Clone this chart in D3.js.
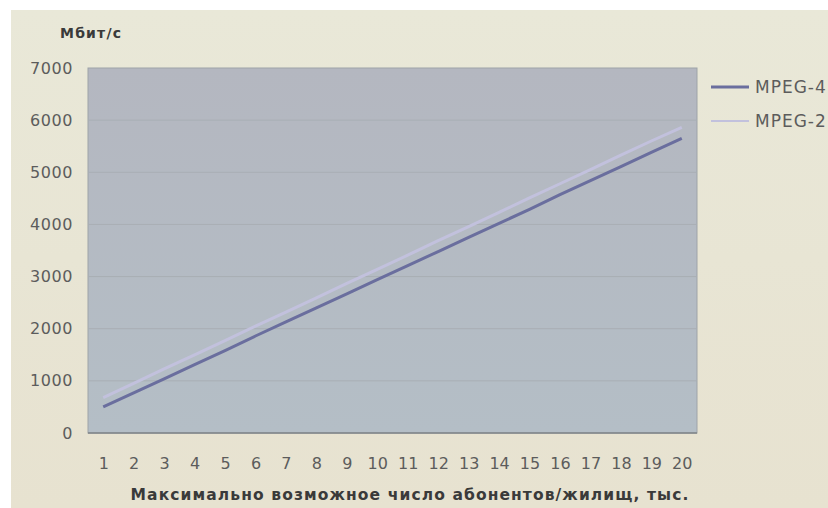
<!DOCTYPE html>
<html>
<head>
<meta charset="utf-8">
<script src="https://cdn.jsdelivr.net/npm/d3@7"></script>
<style>
  html, body { margin: 0; padding: 0; background: #ffffff; }
  svg { display: block; }
</style>
</head>
<body>
<svg id="chart" width="828" height="508"></svg>
<script>
// Bandwidth demand, Mbit/s, by max number of subscribers/dwellings (thousands)
const categories = ["1","2","3","4","5","6","7","8","9","10","11","12","13","14","15","16","17","18","19","20"];
const mpeg4 = [500, 770, 1040, 1310, 1580, 1860, 2130, 2400, 2670, 2940, 3210, 3480, 3750, 4020, 4290, 4570, 4840, 5110, 5380, 5650];
const mpeg2 = [680, 950, 1230, 1500, 1770, 2050, 2320, 2590, 2870, 3140, 3410, 3690, 3960, 4230, 4510, 4780, 5050, 5330, 5600, 5860];
const yTicks = [0, 1000, 2000, 3000, 4000, 5000, 6000, 7000];
const seriesNames = ["MPEG-4", "MPEG-2"];

const svg = d3.select("#chart");
const W = 828, H = 508;
const plot = { left: 88, top: 68, right: 697, bottom: 433 };
const font = "'DejaVu Sans', Arial, sans-serif";

const defs = svg.append("defs");
const bg = defs.append("linearGradient").attr("id", "bgGrad").attr("x1", 0).attr("y1", 0).attr("x2", 0).attr("y2", 1);
bg.append("stop").attr("offset", 0).attr("stop-color", "#e9e8d8");
bg.append("stop").attr("offset", 1).attr("stop-color", "#e7e2d0");
const pg = defs.append("linearGradient").attr("id", "plotGrad").attr("x1", 0).attr("y1", 0).attr("x2", 0).attr("y2", 1);
pg.append("stop").attr("offset", 0).attr("stop-color", "#b4b7c0");
pg.append("stop").attr("offset", 1).attr("stop-color", "#b4bec6");

// chart background (white margin on top and left)
svg.append("rect").attr("x", 11).attr("y", 10).attr("width", W - 11).attr("height", H - 10)
  .attr("fill", "url(#bgGrad)");

const x = d3.scalePoint().domain(categories).range([plot.left, plot.right]).padding(0.5);
const y = d3.scaleLinear().domain([0, 7000]).range([plot.bottom, plot.top]);

// plot area
svg.append("rect").attr("x", plot.left).attr("y", plot.top)
  .attr("width", plot.right - plot.left).attr("height", plot.bottom - plot.top)
  .attr("fill", "url(#plotGrad)").attr("stroke", "#9ea3a8").attr("stroke-width", 1);

// horizontal gridlines
svg.append("g").selectAll("line").data(yTicks.filter(d => d > 0 && d < 7000)).join("line")
  .attr("x1", plot.left).attr("x2", plot.right)
  .attr("y1", d => y(d)).attr("y2", d => y(d))
  .attr("stroke", "#a9aeb4").attr("stroke-width", 1);

// bottom axis line
svg.append("line").attr("x1", plot.left).attr("x2", plot.right)
  .attr("y1", plot.bottom).attr("y2", plot.bottom)
  .attr("stroke", "#7f8488").attr("stroke-width", 1.5);

// y axis labels
const yAxis = d3.axisLeft(y).tickValues(yTicks).tickSize(0).tickPadding(15).tickFormat(d3.format("d"));
const yg = svg.append("g").attr("transform", `translate(${plot.left},0)`).call(yAxis);
yg.select(".domain").remove();
yg.selectAll("text").attr("font-family", font).attr("font-size", 16).attr("letter-spacing", 0.6)
  .attr("fill", "#5c5c5c");

// x axis labels
const xAxis = d3.axisBottom(x).tickSize(0).tickPadding(25);
const xg = svg.append("g").attr("transform", `translate(0,${plot.bottom})`).call(xAxis);
xg.select(".domain").remove();
xg.selectAll("text").attr("font-family", font).attr("font-size", 16).attr("fill", "#5c5c5c");

// titles
svg.append("text").attr("x", 60).attr("y", 38).text("Мбит/с")
  .attr("font-family", font).attr("font-size", 14).attr("font-weight", "bold")
  .attr("letter-spacing", 1.2).attr("fill", "#3a3a3a");
svg.append("text").attr("x", 410).attr("y", 500).attr("text-anchor", "middle")
  .text("Максимально возможное число абонентов/жилищ, тыс.")
  .attr("font-family", font).attr("font-size", 15.5).attr("font-weight", "bold")
  .attr("letter-spacing", 1.1).attr("fill", "#3a3a3a");

// series lines
const line = d3.line().x((d, i) => x(categories[i])).y(d => y(d));
const styles = [
  { data: mpeg4, color: "#6a6e9e", width: 3 },
  { data: mpeg2, color: "#c2c1dd", width: 3 }
];
styles.slice().reverse().forEach(s => {
  svg.append("path").datum(s.data).attr("d", line)
    .attr("fill", "none").attr("stroke", s.color).attr("stroke-width", s.width)
    .attr("stroke-linejoin", "round");
});

// legend
const legend = svg.append("g");
seriesNames.forEach((name, i) => {
  const ly = 87 + i * 34;
  legend.append("line").attr("x1", 711).attr("x2", 749).attr("y1", ly).attr("y2", ly)
    .attr("stroke", styles[i].color).attr("stroke-width", i === 0 ? 3 : 2.2);
  legend.append("text").attr("x", 755).attr("y", ly + 6).text(name)
    .attr("font-family", font).attr("font-size", 17).attr("letter-spacing", 1)
    .attr("fill", "#5c5c5c");
});
</script>
</body>
</html>
